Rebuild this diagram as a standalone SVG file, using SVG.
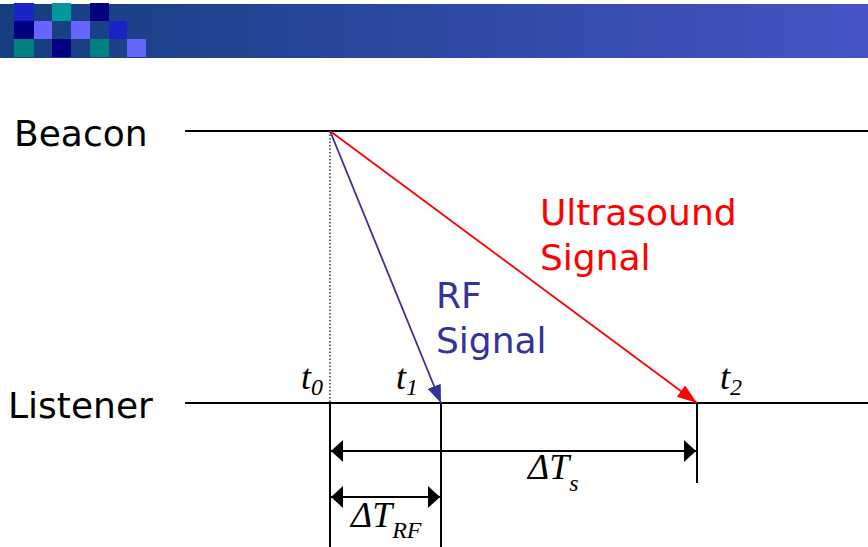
<svg xmlns="http://www.w3.org/2000/svg" width="868" height="547" viewBox="0 0 868 547">
<defs>
<linearGradient id="band" x1="0" y1="0" x2="1" y2="0">
<stop offset="0" stop-color="#143e7f"/>
<stop offset="1" stop-color="#4753c5"/>
</linearGradient>
<marker id="ahBlack" viewBox="0 0 12 22" refX="12" refY="11" markerWidth="12" markerHeight="22" markerUnits="userSpaceOnUse" orient="auto-start-reverse">
<path d="M0,0 L12,11 L0,22 Z" fill="#000"/>
</marker>
<marker id="ahBlue" viewBox="0 0 18 14" refX="18" refY="7" markerWidth="18" markerHeight="14" markerUnits="userSpaceOnUse" orient="auto">
<path d="M0,0 L18,7 L0,14 Z" fill="#333399"/>
</marker>
<marker id="ahRed" viewBox="0 0 20 14" refX="20" refY="7" markerWidth="20" markerHeight="14" markerUnits="userSpaceOnUse" orient="auto">
<path d="M0,0 L20,7 L0,14 Z" fill="#ff0000"/>
</marker>
</defs>
<style>
.lbl{font-family:"DejaVu Sans","Verdana",sans-serif;font-size:36px}
.math{font-family:"Liberation Serif","Times New Roman",serif;font-style:italic;font-size:36px}
.sub{font-size:24px}
.axis{stroke:#000;stroke-width:2;fill:none}
.dim{stroke:#000;stroke-width:2;fill:none}
</style>
<g id="header">
<rect x="0" y="4" width="868" height="54" fill="url(#band)"/>
<rect x="14" y="3" width="20" height="18" fill="#1a22c8"/>
<rect x="52" y="3" width="19" height="18" fill="#009999"/>
<rect x="90" y="3" width="19" height="18" fill="#000080"/>
<rect x="14" y="21" width="20" height="18" fill="#000080"/>
<rect x="34" y="21" width="18" height="18" fill="#6666ff"/>
<rect x="71" y="21" width="19" height="18" fill="#6666ff"/>
<rect x="109" y="21" width="18" height="18" fill="#1a22c8"/>
<rect x="14" y="39" width="20" height="18" fill="#008080"/>
<rect x="52" y="39" width="19" height="18" fill="#000080"/>
<rect x="90" y="39" width="19" height="18" fill="#008080"/>
<rect x="127" y="39" width="19" height="18" fill="#6666ff"/>
</g>
<g id="beacon">
<text class="lbl" x="14" y="146" fill="#000">Beacon</text>
<line class="axis" x1="185" y1="131" x2="868" y2="131"/>
</g>
<g id="listener">
<text class="lbl" x="8" y="418" fill="#000">Listener</text>
<line class="axis" x1="185" y1="403" x2="868" y2="403"/>
</g>
<g id="connectors">
<line x1="330" y1="131" x2="330" y2="403" stroke="#000" stroke-width="1.2" stroke-dasharray="1.5,2"/>
<line x1="330" y1="131" x2="441" y2="403" stroke="#333399" stroke-width="1.8" marker-end="url(#ahBlue)"/>
<line x1="330" y1="131" x2="697" y2="403" stroke="#ff0000" stroke-width="1.8" marker-end="url(#ahRed)"/>
<line class="dim" x1="330" y1="403" x2="330" y2="547"/>
<line class="dim" x1="441" y1="403" x2="441" y2="547"/>
<line class="dim" x1="697" y1="403" x2="697" y2="483"/>
<line class="dim" x1="331" y1="451" x2="696" y2="451" marker-start="url(#ahBlack)" marker-end="url(#ahBlack)"/>
<line class="dim" x1="331" y1="497" x2="440" y2="497" marker-start="url(#ahBlack)" marker-end="url(#ahBlack)"/>
</g>
<g id="ultrasound-label">
<text class="lbl" x="540" y="225" fill="#ff0000">Ultrasound</text>
<text class="lbl" x="540" y="270" fill="#ff0000">Signal</text>
</g>
<g id="rf-label">
<text class="lbl" x="436" y="308" fill="#333399">RF</text>
<text class="lbl" x="436" y="353" fill="#333399">Signal</text>
</g>
<g id="time-labels">
<text class="math" x="301" y="389">t<tspan class="sub" dy="6">0</tspan></text>
<text class="math" x="396" y="389">t<tspan class="sub" dy="6">1</tspan></text>
<text class="math" x="720" y="389">t<tspan class="sub" dy="6">2</tspan></text>
<text class="math" x="528" y="479">ΔT<tspan class="sub" dy="12">s</tspan></text>
<text class="math" x="351" y="527">ΔT<tspan class="sub" dy="11">RF</tspan></text>
</g>
</svg>
